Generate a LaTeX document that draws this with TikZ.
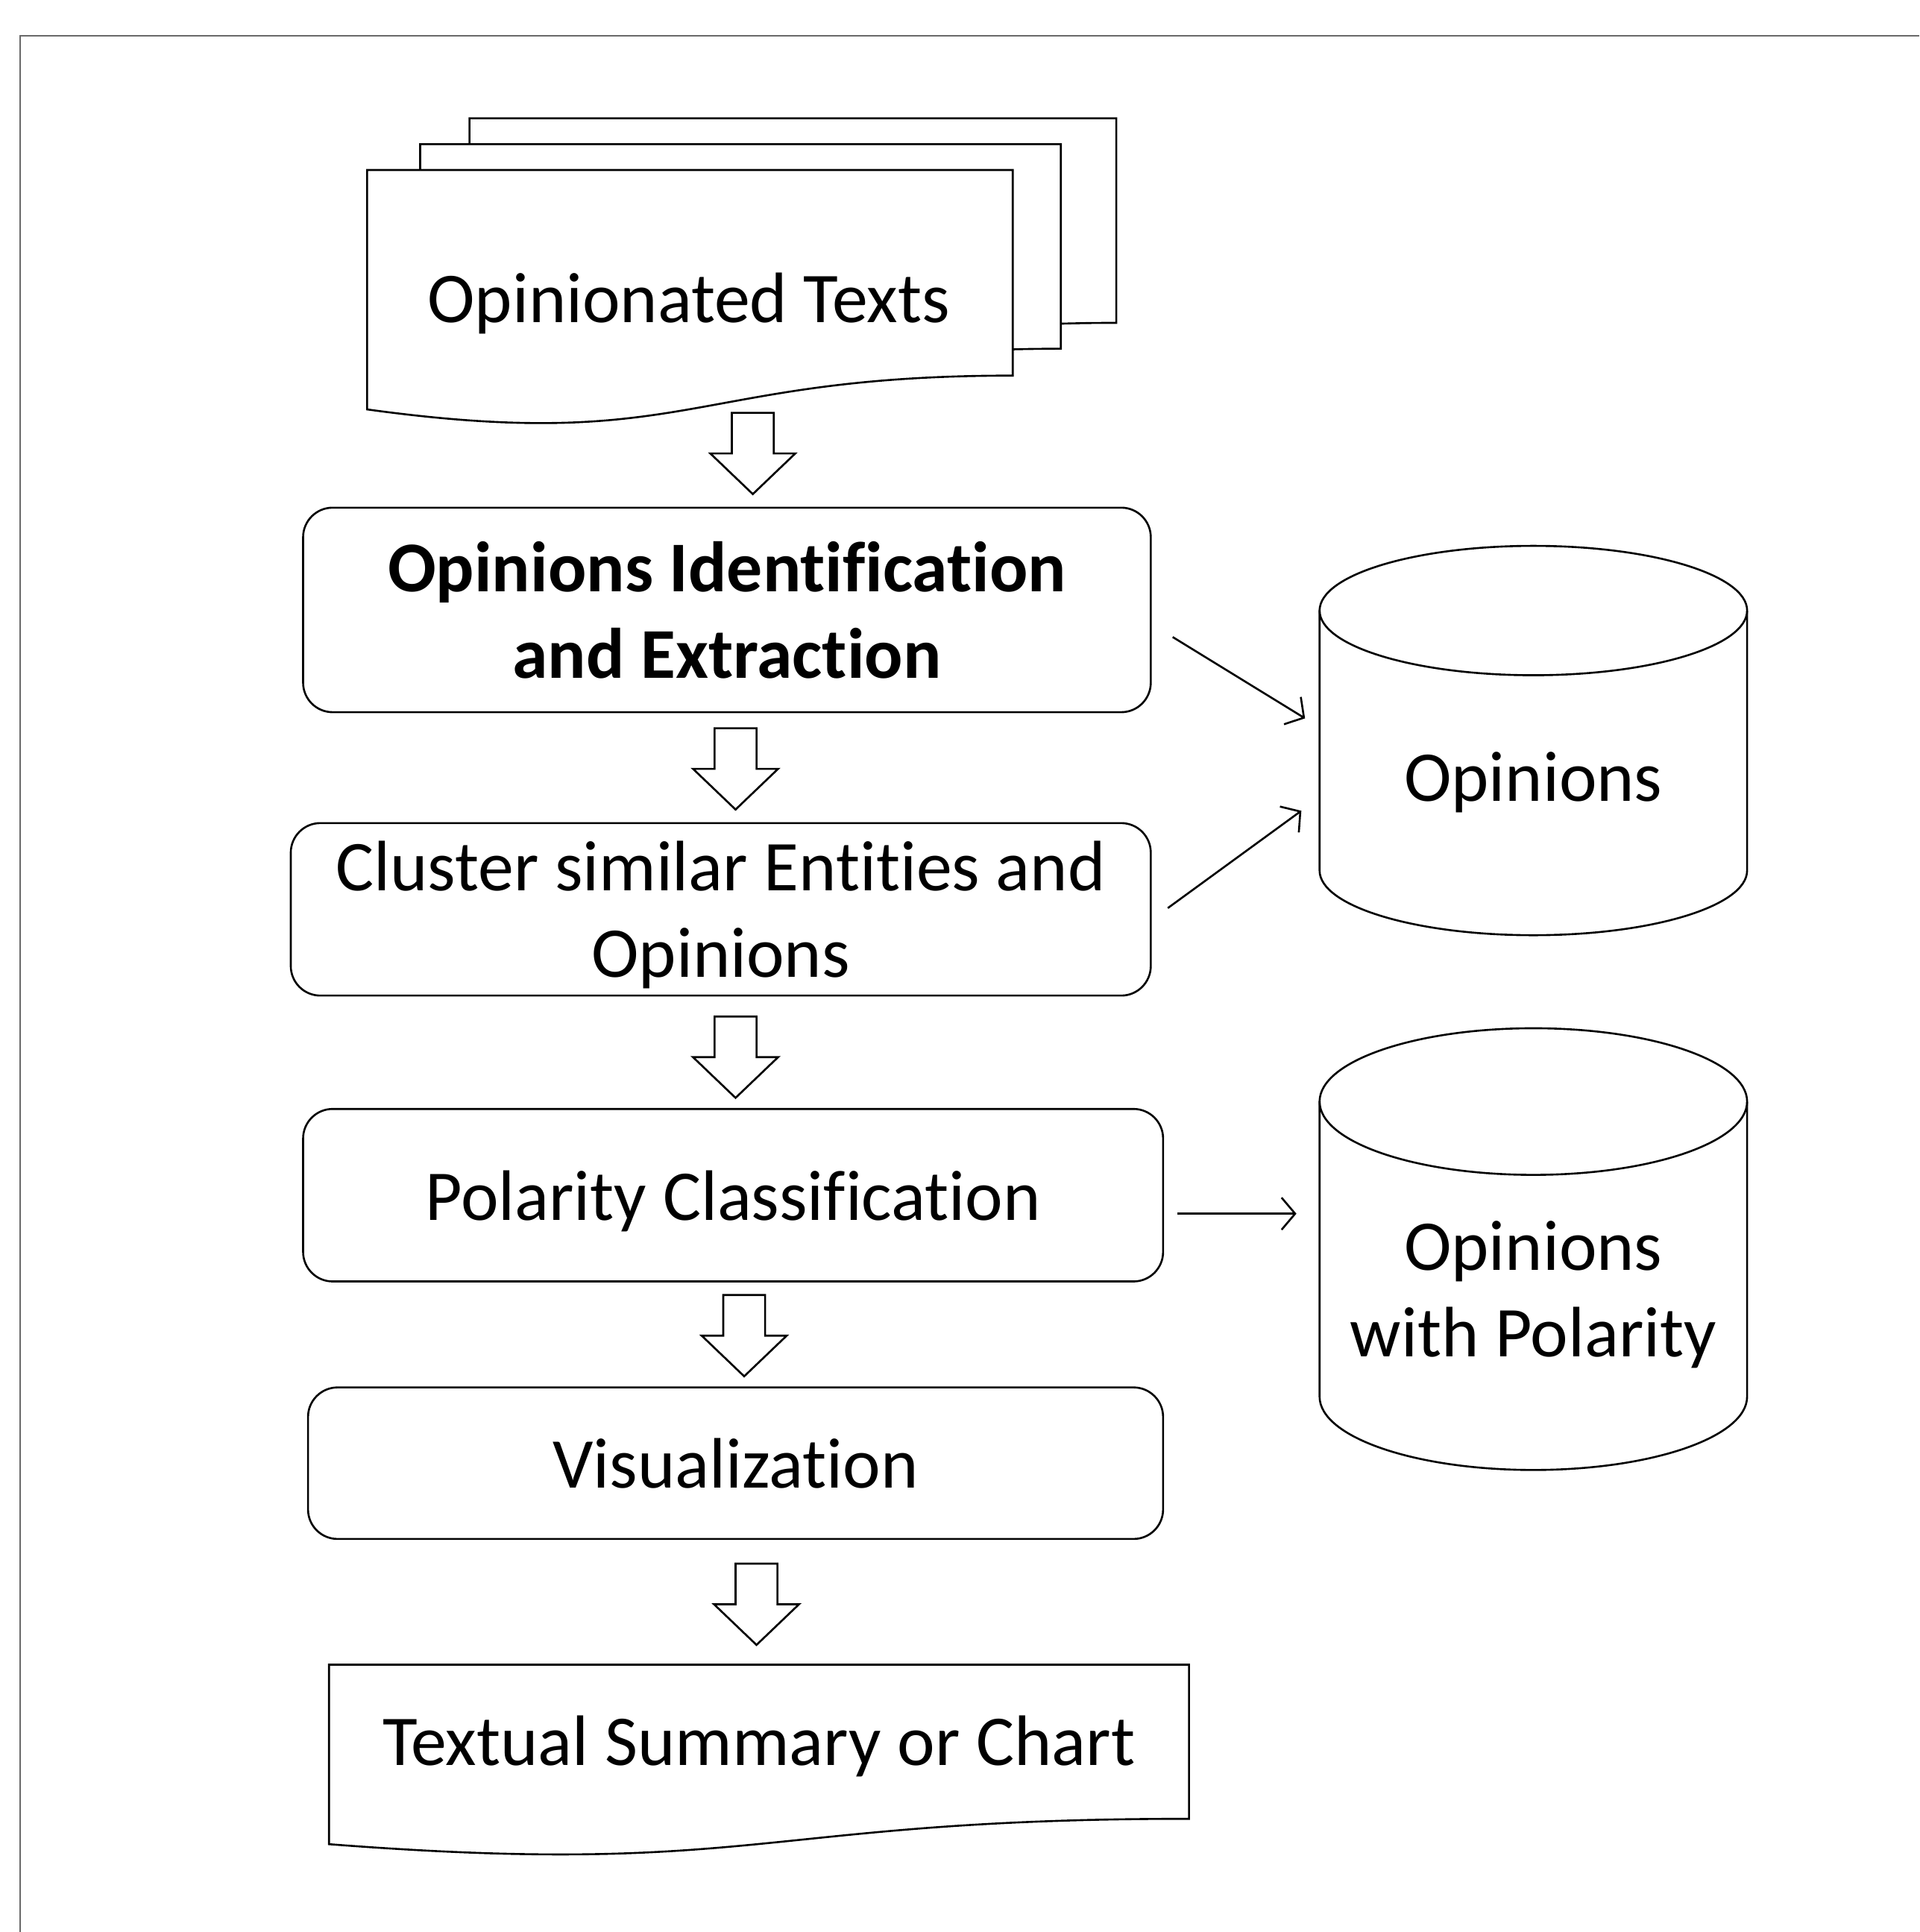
\documentclass[tikz,border=0pt]{standalone}
\usepackage{fontspec}
\setmainfont{Carlito}[Ligatures=NoCommon]
\usepackage{xcolor}
\usepackage{tikz}
\usetikzlibrary{arrows.meta,calc}

\definecolor{framegray}{RGB}{105,105,105}

% sheet with a wavy lower edge: x, y (top left), width, height
\newcommand{\docsheet}[4]{%
  \draw[fill=white] (#1,#2) -- (#1+#3,#2) -- (#1+#3,#2+0.802*#4)
    .. controls (#1+0.5*#3,#2+0.802*#4) and (#1+0.5*#3,#2+1.1075*#4) .. (#1,#2+0.934*#4) -- cycle;}

% hollow arrow pointing down: x centre, y top
\newcommand{\blockdown}[2]{%
  \draw[blockarrow] (#1-17,#2) -- (#1+17,#2) -- (#1+17,#2+33) -- (#1+34.5,#2+33)
    -- (#1,#2+66) -- (#1-34.5,#2+33) -- (#1-17,#2+33) -- cycle;}

% store: x left, y of top rim, y of bottom rim, rim radius
\newcommand{\dbstore}[4]{%
  \draw[fill=white] (#1,#2) -- (#1,#3) arc[start angle=180,end angle=360,x radius=17.35mm,y radius=#4]
    -- (#1+347,#2) arc[start angle=0,end angle=180,x radius=17.35mm,y radius=#4] -- cycle;
  \draw (#1,#2) arc[start angle=180,end angle=360,x radius=17.35mm,y radius=#4];}

\begin{document}
\begin{tikzpicture}[x=0.1mm,y=-0.1mm,line width=0.45pt]

        \tikzstyle{txt}=[font=\fontsize{16.5}{20}\selectfont,inner sep=0pt]
        \tikzstyle{stepbox}=[draw,rounded corners=2.4mm,align=center,inner sep=2pt,text depth=0pt,font=\fontsize{16.5}{20}\selectfont]
        \tikzstyle{blockarrow}=[draw,fill=white,line join=miter]
        \tikzstyle{feed}=[-{Straight Barb[length=1.1mm,width=2.6mm]}]

        \useasboundingbox (0,0) rectangle (1558,1568);

        %% page frame
        \draw[framegray,line width=0.35pt] (16.5,1568) -- (16.5,29) -- (1558,29);

        %% Draw input sheets
        \docsheet{381}{96}{525}{207}
        \docsheet{341}{117}{520}{207}
        \docsheet{298}{138}{524}{208}
        \node[txt,anchor=base] (texts) at (559,262) {Opinionated Texts};

        %% processing steps
        \node[stepbox,minimum width=68.8mm,minimum height=16.6mm,font=\fontsize{16.5}{20}\selectfont\bfseries] (ident) at (590,495) {Opinions Identification\\and Extraction};
        \node[stepbox,minimum width=69.8mm,minimum height=14mm] (cluster) at (585,738) {Cluster similar Entities and\\Opinions};
        \node[stepbox,minimum width=69.8mm,minimum height=14mm] (polarity) at (595,970) {Polarity Classification};
        \node[stepbox,minimum width=69.4mm,minimum height=12.3mm] (visual) at (597,1187.5) {Visualization};

        %% output sheet
        \docsheet{267}{1351}{698}{156}
        \node[txt,anchor=base] (summary) at (616,1433) {Textual Summary or Chart};

        %% hollow arrows
        \blockdown{611}{335}
        \blockdown{597}{591}
        \blockdown{597}{825}
        \blockdown{604}{1051}
        \blockdown{614}{1269}

        %% Draw stores
        \dbstore{1071}{495.5}{706.5}{5.25mm}
        \node[minimum width=34.7mm,minimum height=31.6mm,inner sep=0pt] (opdb) at (1244.5,601) {};
        \node[txt,anchor=base] (opdbtext) at ($(opdb)+(0,49)$) {Opinions};

        \dbstore{1071}{894}{1133.5}{5.95mm}
        \node[minimum width=34.7mm,minimum height=35.9mm,inner sep=0pt] (poldb) at (1244.5,1013.5) {};
        \node[txt,align=center] (poldbtext) at ($(poldb)+(0,37)$) {Opinions\\with Polarity};

        %% thin arrows into the stores
        \draw[feed] ($(ident.east)+(17,22)$) -- ($(opdb.west)+(-11,-18)$);
        \draw[feed] ($(cluster.east)+(13,-1)$) -- ($(opdb.west)+(-14,57)$);
        \draw[feed] ($(polarity.east)+(11,15)$) -- ($(poldb.west)+(-18,-28.5)$);

\end{tikzpicture}
\end{document}
